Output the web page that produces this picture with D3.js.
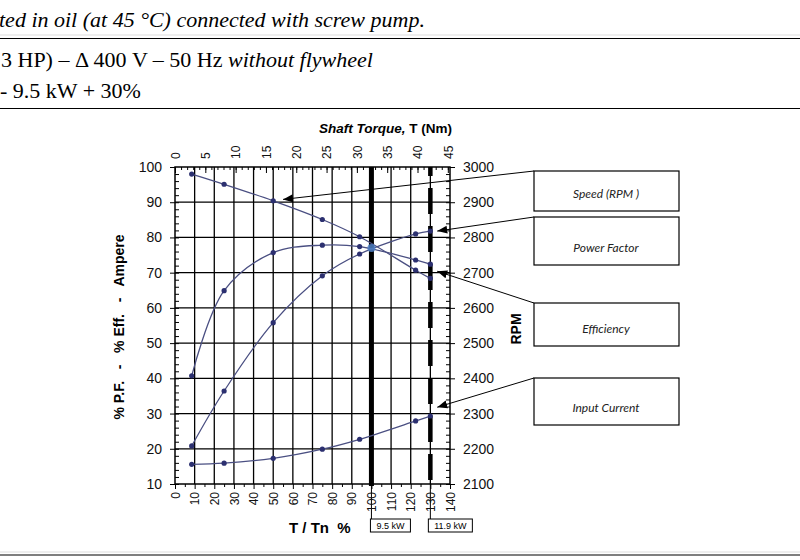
<!DOCTYPE html>
<html>
<head>
<meta charset="utf-8">
<script src="https://cdn.jsdelivr.net/npm/d3@7"></script>
<style>
  body { margin: 0; background: #fff; }
  svg { display: block; }
</style>
</head>
<body>
<div id="chart"></div>
<script>
// load points (T/Tn %) shared by every curve
var loadPct = [8.5, 25, 50, 75, 94, 122.5, 130];
// curves
var speedRpm = [2980, 2951, 2904, 2851, 2802, 2707, 2684];
var efficiency = [40.7, 64.9, 75.7, 77.8, 77.4, 73.6, 72.4];
var powerFactor = [20.8, 36.4, 55.8, 69.1, 75.3, 81.0, 81.8];
var inputCurrent = [15.6, 15.9, 17.3, 19.9, 22.7, 27.9, 29.3];
// crossing highlighted at rated load
var crossing = [100, 77];

// ticks
var pctTicks = d3.range(0, 141, 10);
var leftTicks = d3.range(10, 101, 10);
var rpmTicks = d3.range(2100, 3001, 100);
var torqueTicks = d3.range(0, 46, 5);
var torqueMax = 45.36; // 140 % of rated torque (32.4 Nm)

// reference lines
var ratedLines = [{pct: 100, label: "9.5 kW", dashed: false}, {pct: 130, label: "11.9 kW", dashed: true}];

// callouts: text, box top/bottom, arrow target (pct, left scale)
var callouts = [
    {text: "Speed (RPM )", y0: 171, y1: 211, tip: [55, 90.8]},
    {text: "Power Factor", y0: 217, y1: 265, tip: [133.5, 81.8]},
    {text: "Efficiency", y0: 303, y1: 346, tip: [133.5, 70.4]},
    {text: "Input Current", y0: 378, y1: 425, tip: [133.5, 31.8]}
];

var svgWidth = 800;
var svgHeight = 560;
var plot = {left: 175, right: 450, top: 167, bottom: 484};

var svg = d3.select("#chart").append("svg")
    .attr("width", svgWidth)
    .attr("height", svgHeight)
    .style("font-family", "'Liberation Sans', Arial, sans-serif");

// header text from the page the chart sits in
var serif = "'Liberation Serif', 'Times New Roman', serif";
svg.append("text").attr("x", -1).attr("y", 27)
    .style("font-family", serif).style("font-size", "22px").style("font-style", "italic")
    .text("ted in oil (at 45 °C) connected with screw pump.");
svg.append("line").attr("x1", 0).attr("x2", svgWidth).attr("y1", 35).attr("y2", 35).attr("stroke", "#ddd");
svg.append("line").attr("x1", 0).attr("x2", svgWidth).attr("y1", 38.5).attr("y2", 38.5).attr("stroke", "#000").attr("stroke-width", 1.2);
var l2 = svg.append("text").attr("x", 1).attr("y", 67)
    .style("font-family", serif).style("font-size", "22px");
l2.append("tspan").text("3 HP) – Δ 400 V – 50 Hz ");
l2.append("tspan").style("font-style", "italic").text("without flywheel");
svg.append("text").attr("x", 0).attr("y", 98)
    .style("font-family", serif).style("font-size", "22px")
    .text("- 9.5 kW + 30%");
svg.append("line").attr("x1", 0).attr("x2", svgWidth).attr("y1", 108.5).attr("y2", 108.5).attr("stroke", "#000").attr("stroke-width", 1.2);
svg.append("line").attr("x1", 0).attr("x2", svgWidth).attr("y1", 552).attr("y2", 552).attr("stroke", "#ddd");
svg.append("line").attr("x1", 0).attr("x2", svgWidth).attr("y1", 555).attr("y2", 555).attr("stroke", "#000").attr("stroke-width", 1.2);

// scales
var xScale = d3.scaleLinear().domain([0, 140]).range([plot.left, plot.right]);
var xTop = d3.scaleLinear().domain([0, torqueMax]).range([plot.left, plot.right]);
var yLeft = d3.scaleLinear().domain([10, 100]).range([plot.bottom, plot.top]);
var yRight = d3.scaleLinear().domain([2100, 3000]).range([plot.bottom, plot.top]);

// grid
var grid = svg.append("g").attr("stroke", "#000").attr("stroke-width", 1.3);
grid.selectAll(".vg").data(pctTicks.filter(d => d > 0 && d < 140)).enter().append("line")
    .attr("x1", d => xScale(d)).attr("x2", d => xScale(d))
    .attr("y1", plot.top).attr("y2", plot.bottom);
grid.selectAll(".hg").data(leftTicks.filter(d => d > 10 && d < 100)).enter().append("line")
    .attr("x1", plot.left).attr("x2", plot.right)
    .attr("y1", d => yLeft(d)).attr("y2", d => yLeft(d));

// rated lines (solid at 100 %, dashed at 130 %)
ratedLines.forEach(function (r) {
    svg.append("line")
        .attr("x1", xScale(r.pct)).attr("x2", xScale(r.pct))
        .attr("y1", plot.top).attr("y2", plot.bottom + 2)
        .attr("stroke", "#000")
        .attr("stroke-width", r.dashed ? 4.5 : 5)
        .attr("stroke-dasharray", r.dashed ? "26,12" : null)
        .attr("stroke-dashoffset", r.dashed ? 17 : null);
    svg.append("line")
        .attr("x1", xScale(r.pct)).attr("x2", xScale(r.pct))
        .attr("y1", plot.bottom).attr("y2", 519)
        .attr("stroke", "#000").attr("stroke-width", 1);
});

// axes
function styleAxis(g) {
    g.select(".domain").remove();
    g.selectAll("line").attr("stroke", "#000");
    g.selectAll("text").attr("fill", "#111");
}

svg.append("g").attr("transform", `translate(${plot.left},0)`)
    .call(d3.axisLeft(yLeft).tickValues(leftTicks).tickSize(5).tickPadding(8))
    .call(styleAxis)
    .selectAll("text").style("font-size", "14px");
svg.append("g").attr("transform", `translate(${plot.left},0)`)
    .call(d3.axisLeft(yLeft).tickValues(d3.range(10, 100, 2)).tickSize(-4).tickFormat(""))
    .call(styleAxis);

svg.append("g").attr("transform", `translate(${plot.right},0)`)
    .call(d3.axisRight(yRight).tickValues(rpmTicks).tickFormat(d3.format("d")).tickSize(5).tickPadding(8))
    .call(styleAxis)
    .selectAll("text").style("font-size", "14px");
svg.append("g").attr("transform", `translate(${plot.right},0)`)
    .call(d3.axisRight(yRight).tickValues(d3.range(2100, 3000, 20)).tickSize(-4).tickFormat(""))
    .call(styleAxis);

var bottomAxis = svg.append("g").attr("transform", `translate(0,${plot.bottom})`)
    .call(d3.axisBottom(xScale).tickValues(pctTicks).tickSize(5).tickPadding(0))
    .call(styleAxis);
bottomAxis.selectAll("text")
    .style("font-size", "12px")
    .attr("text-anchor", "end")
    .attr("transform", "translate(0,8) rotate(-90)")
    .attr("x", 0).attr("y", 0).attr("dy", "0.35em");
svg.append("g").attr("transform", `translate(0,${plot.bottom})`)
    .call(d3.axisBottom(xScale).tickValues(d3.range(5, 140, 10)).tickSize(3).tickFormat(""))
    .call(styleAxis);

var topAxis = svg.append("g").attr("transform", `translate(0,${plot.top})`)
    .call(d3.axisTop(xTop).tickValues(torqueTicks).tickSize(-6).tickPadding(0))
    .call(styleAxis);
topAxis.selectAll("text")
    .style("font-size", "12px")
    .attr("text-anchor", "start")
    .attr("transform", "translate(0,-8) rotate(-90)")
    .attr("x", 0).attr("y", 0).attr("dy", "0.35em");
svg.append("g").attr("transform", `translate(0,${plot.top})`)
    .call(d3.axisTop(xTop).tickValues(d3.range(0, 46, 1)).tickSize(-3).tickFormat(""))
    .call(styleAxis);

// frame
svg.append("rect")
    .attr("x", plot.left).attr("y", plot.top)
    .attr("width", plot.right - plot.left).attr("height", plot.bottom - plot.top)
    .attr("fill", "none").attr("stroke", "#000").attr("stroke-width", 1.5);

// curves
var series = [
    {values: speedRpm, y: yRight},
    {values: efficiency, y: yLeft},
    {values: powerFactor, y: yLeft},
    {values: inputCurrent, y: yLeft}
];
series.forEach(function (s) {
    var pts = loadPct.map((p, i) => [p, s.values[i]]);
    var line = d3.line()
        .x(d => xScale(d[0]))
        .y(d => s.y(d[1]))
        .curve(d3.curveCatmullRom.alpha(0.5));
    svg.append("path").datum(pts)
        .attr("d", line)
        .attr("fill", "none")
        .attr("stroke", "#4a4f82")
        .attr("stroke-width", 1.3);
    svg.selectAll(null).data(pts).enter().append("circle")
        .attr("cx", d => xScale(d[0]))
        .attr("cy", d => s.y(d[1]))
        .attr("r", 2.6)
        .attr("fill", "#2c3070");
});
svg.append("circle")
    .attr("cx", xScale(crossing[0])).attr("cy", yLeft(crossing[1]))
    .attr("r", 4).attr("fill", "#4d7fc4").attr("opacity", 0.85);

// axis titles
var shaft = svg.append("text").attr("x", 452).attr("y", 133)
    .attr("text-anchor", "end")
    .style("font-size", "13.5px").style("font-weight", "bold");
shaft.append("tspan").style("font-style", "italic").text("Shaft Torque, ");
shaft.append("tspan").text("T (Nm)");

svg.append("text")
    .attr("transform", "translate(124,327) rotate(-90)")
    .attr("text-anchor", "middle")
    .style("font-size", "14px").style("font-weight", "bold")
    .style("white-space", "pre")
    .text("% P.F.   -   % Eff.   -   Ampere");

svg.append("text")
    .attr("transform", "translate(521,329) rotate(-90)")
    .attr("text-anchor", "middle")
    .style("font-size", "14px").style("font-weight", "bold")
    .text("RPM");

svg.append("text").attr("x", 289).attr("y", 533)
    .style("font-size", "15px").style("font-weight", "bold")
    .style("white-space", "pre")
    .text("T / Tn  %");

// kW boxes under the rated lines
ratedLines.forEach(function (r) {
    var cx = xScale(r.pct);
    var w = r.dashed ? 44 : 40;
    var x0 = r.dashed ? cx - 2 : cx - 1;
    svg.append("rect").attr("x", x0).attr("y", 519).attr("width", w).attr("height", 13)
        .attr("fill", "#fff").attr("stroke", "#000").attr("stroke-width", 1);
    svg.append("text").attr("x", x0 + w / 2).attr("y", 529)
        .attr("text-anchor", "middle")
        .style("font-size", "9px")
        .text(r.label);
});

// callout boxes with arrows
svg.append("defs").append("marker")
    .attr("id", "arrow")
    .attr("viewBox", "0 0 10 10")
    .attr("refX", 10).attr("refY", 5)
    .attr("markerWidth", 10).attr("markerHeight", 10)
    .attr("markerUnits", "userSpaceOnUse")
    .attr("orient", "auto")
    .append("path").attr("d", "M0,1 L10,5 L0,9 Z").attr("fill", "#000");

callouts.forEach(function (c) {
    svg.append("line")
        .attr("x1", 534).attr("y1", c.y0)
        .attr("x2", xScale(c.tip[0])).attr("y2", yLeft(c.tip[1]))
        .attr("stroke", "#000").attr("stroke-width", 1)
        .attr("marker-end", "url(#arrow)");
    svg.append("rect")
        .attr("x", 534).attr("y", c.y0)
        .attr("width", 145).attr("height", c.y1 - c.y0)
        .attr("fill", "#fff").attr("stroke", "#000").attr("stroke-width", 1.2);
    svg.append("text")
        .attr("x", 606).attr("y", c.y1 - 13)
        .attr("text-anchor", "middle")
        .style("font-family", "Lato, 'Open Sans', sans-serif")
        .style("font-size", "12px").style("font-style", "italic")
        .attr("fill", "#222")
        .text(c.text);
});
</script>
</body>
</html>
